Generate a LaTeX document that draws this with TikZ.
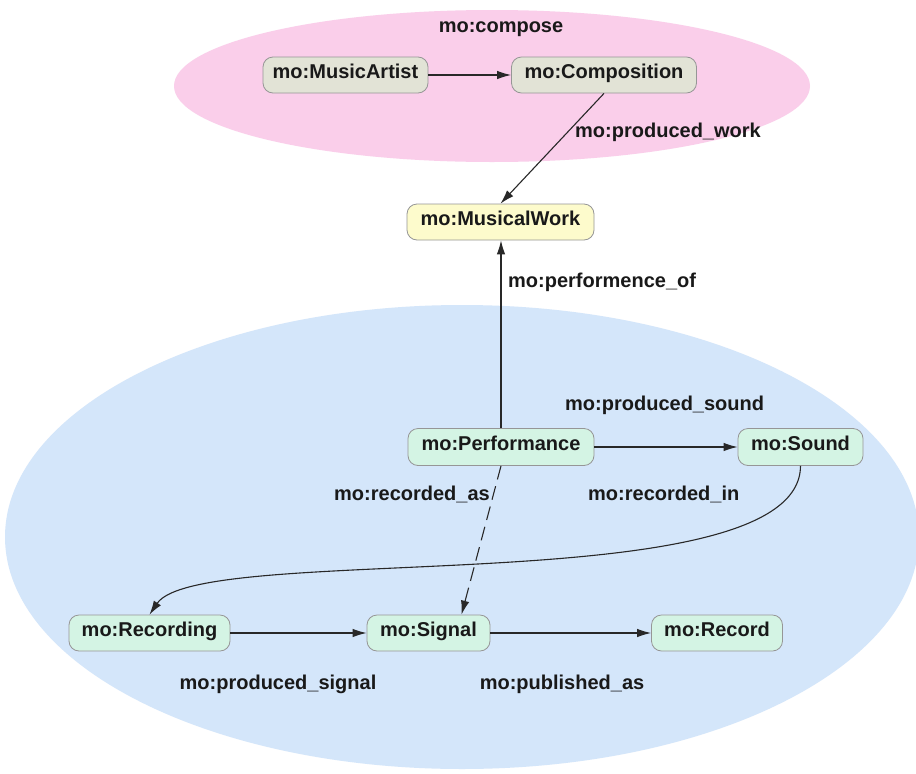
\documentclass[tikz,border=0pt]{standalone}
\usepackage{fontspec}
\setmainfont{Liberation Sans}
\usetikzlibrary{arrows.meta,calc}
\definecolor{pinkbg}{RGB}{250,206,234}
\definecolor{bluebg}{RGB}{212,230,250}
\definecolor{greyfill}{RGB}{226,227,214}
\definecolor{yellowfill}{RGB}{253,251,204}
\definecolor{mintfill}{RGB}{212,244,228}
\definecolor{boxline}{RGB}{150,150,150}
\definecolor{edgecol}{RGB}{40,40,40}
\begin{document}
\begin{tikzpicture}[x=1pt,y=-1pt,
  every node/.style={font=\fontsize{20}{24}\selectfont\bfseries, text=black!90},
  cls/.style={draw=boxline, line width=0.8pt, rounded corners=10pt, minimum height=36pt,
    inner sep=0pt, text height=0.716em, text depth=0pt},
  topcls/.style={cls, fill=greyfill},
  workcls/.style={cls, fill=yellowfill},
  lowcls/.style={cls, fill=mintfill},
  lbl/.style={inner sep=0pt, text height=0.75em, text depth=0.21em},
  rel/.style={draw=edgecol, line width=1.1pt, -{Latex[length=14pt,width=8.5pt]}},
  dashrel/.style={rel, dash pattern=on 14pt off 7pt}
]
\useasboundingbox (0,0) rectangle (916,774);
\fill[white] (0,0) rectangle (916,774);
\fill[bluebg] (462,537) ellipse [x radius=457pt, y radius=232pt];
\fill[pinkbg] (492,86) ellipse [x radius=318pt, y radius=76pt];

% nodes
\node[topcls, minimum width=165pt] (art) at (345.5,75) {mo:MusicArtist};
\node[topcls, minimum width=185pt] (comp) at (604,75) {mo:Composition};
\node[workcls, minimum width=187pt] (mw) at (500.5,222) {mo:MusicalWork};
\node[lowcls, minimum width=186pt, minimum height=37pt] (perf) at (501,447) {mo:Performance};
\node[lowcls, minimum width=125pt, minimum height=37pt] (snd) at (800.5,447) {mo:Sound};
\node[lowcls, minimum width=161pt] (rec) at (149.5,633) {mo:Recording};
\node[lowcls, minimum width=123pt] (sig) at (428.5,633) {mo:Signal};
\node[lowcls, minimum width=131pt] (recd) at (717,633) {mo:Record};

% labels
\node[lbl] (lcompose) at (501,30) {mo:compose};
\node[lbl, anchor=west] (lpw) at (575,135) {mo:produced\_work};
\node[lbl, anchor=west] (lpo) at (508,285) {mo:performence\_of};
\node[lbl, anchor=west] (lps) at (565,408) {mo:produced\_sound};
\node[lbl, anchor=west] (lra) at (334,498) {mo:recorded\_as};
\node[lbl, anchor=west] (lri) at (588,498) {mo:recorded\_in};
\node[lbl] (lpsig) at (278,687) {mo:produced\_signal};
\node[lbl] (lpa) at (562,687) {mo:published\_as};

% connectors
\draw[rel] (art) -- (comp);
\draw[rel] (comp.south) -- (mw.north);
\draw[rel] (perf.north) -- (perf.north |- mw.south);
\draw[rel] (perf) -- (snd);
\draw[dashrel] (perf.south) -- ($(sig.north)+(33,0)$);
\draw[rel] (snd.south) .. controls (800,605) and (200,540) .. (rec.north);
\draw[rel] (rec) -- (sig);
\draw[rel] (sig) -- (recd);
\end{tikzpicture}
\end{document}
